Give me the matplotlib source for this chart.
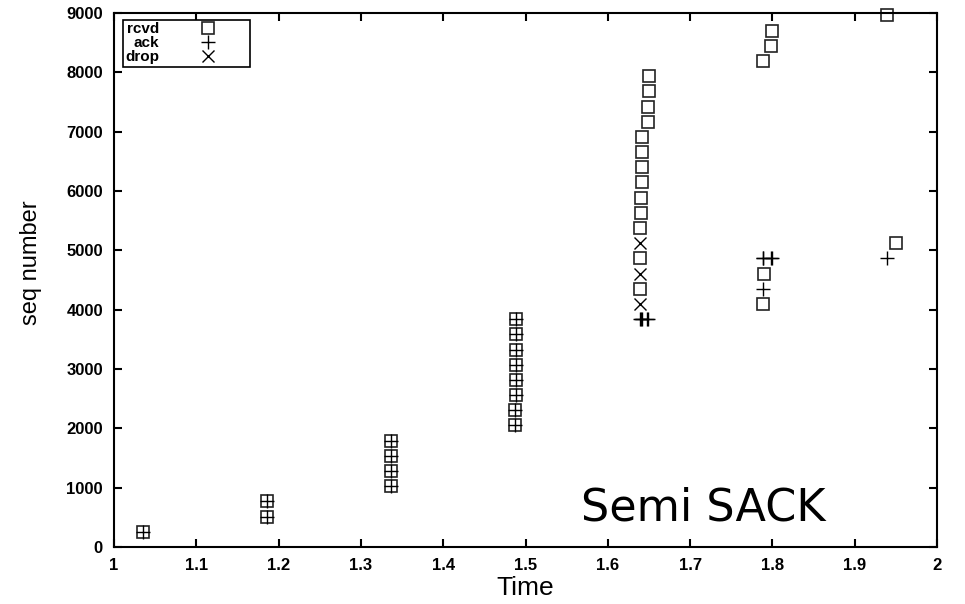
import matplotlib
matplotlib.use("Agg")
import matplotlib.pyplot as plt

plt.rcParams["font.family"] = ["Liberation Sans", "DejaVu Sans"]

# packets received at the sink (time, seq)
rcvd_time = [1.035, 1.186, 1.186, 1.337, 1.337, 1.337, 1.337,
             1.487, 1.487, 1.488, 1.488, 1.488, 1.489, 1.489, 1.489,
             1.6387, 1.639, 1.6395, 1.6403, 1.6403, 1.641, 1.6413,
             1.6417, 1.6417, 1.6486, 1.6486, 1.650, 1.650,
             1.7886, 1.7898, 1.789, 1.7987, 1.799,
             1.939, 1.950]
rcvd_seq = [256, 512, 768, 1024, 1280, 1536, 1792,
            2048, 2304, 2560, 2816, 3072, 3328, 3584, 3840,
            4352, 4864, 5376, 5632, 5888, 6144, 6400,
            6656, 6912, 7168, 7424, 7680, 7936,
            4096, 4608, 8192, 8448, 8704,
            8960, 5120]

# acks sent back
ack_time = [1.035, 1.186, 1.186, 1.337, 1.337, 1.337, 1.337,
            1.487, 1.487, 1.488, 1.488, 1.488, 1.489, 1.489, 1.489,
            1.639, 1.6403, 1.6415, 1.6476, 1.6488,
            1.789, 1.788, 1.789, 1.798, 1.799,
            1.939]
ack_seq = [256, 512, 768, 1024, 1280, 1536, 1792,
           2048, 2304, 2560, 2816, 3072, 3328, 3584, 3840,
           3840, 3840, 3840, 3840, 3840,
           4352, 4864, 4864, 4864, 4864,
           4864]

# dropped packets
drop_time = [1.639, 1.6395, 1.6395]
drop_seq = [4096, 4608, 5120]

xtick_vals = [1, 1.1, 1.2, 1.3, 1.4, 1.5, 1.6, 1.7, 1.8, 1.9, 2]
xtick_labels = ["1", "1.1", "1.2", "1.3", "1.4", "1.5", "1.6", "1.7", "1.8", "1.9", "2"]
ytick_vals = list(range(0, 9001, 1000))


def main():
    fig = plt.figure(figsize=(9.65, 6.04), dpi=100)
    ax = fig.add_axes([114 / 965, 57 / 604, 823 / 965, 534 / 604])

    ax.plot(rcvd_time, rcvd_seq, ls="none", marker="s", ms=9, mfc="none",
            mec="#222222", mew=1.2, clip_on=False, label="rcvd")
    ax.plot(ack_time, ack_seq, ls="none", marker="+", ms=9.5, mec="black",
            mew=1.0, clip_on=False, label="ack")
    ax.plot(drop_time, drop_seq, ls="none", marker="x", ms=9, mec="black",
            mew=1.0, clip_on=False, label="drop")

    ax.set_xlim(1, 2)
    ax.set_ylim(0, 9000)
    ax.set_xticks(xtick_vals)
    ax.set_xticklabels(xtick_labels)
    ax.set_yticks(ytick_vals)
    ax.tick_params(direction="in", length=6, width=1.5, top=True, right=True,
                   labelsize=12, pad=8)
    for lbl in ax.get_xticklabels() + ax.get_yticklabels():
        lbl.set_fontweight("bold")
    for sp in ax.spines.values():
        sp.set_linewidth(1.5)

    ax.set_xlabel("Time", fontsize=19, labelpad=2)
    ax.set_ylabel("seq number", fontsize=17)
    ax.yaxis.set_label_coords(-0.088, 0.532)

    leg = ax.legend(loc="upper left", bbox_to_anchor=(9 / 823, 1 - 7 / 534),
                    borderaxespad=0, markerfirst=False, fancybox=False,
                    edgecolor="black", framealpha=1, numpoints=1,
                    handlelength=5.2, handletextpad=0.6, labelspacing=0.0,
                    borderpad=0.15, prop=dict(size=11, weight="bold"))
    leg.get_frame().set_linewidth(1.2)

    ax.text(1.716, 455, "Semi SACK", fontsize=32, family="DejaVu Sans",
            ha="center", va="baseline")

    fig.savefig("out.png", dpi=100)


if __name__ == "__main__":
    main()
